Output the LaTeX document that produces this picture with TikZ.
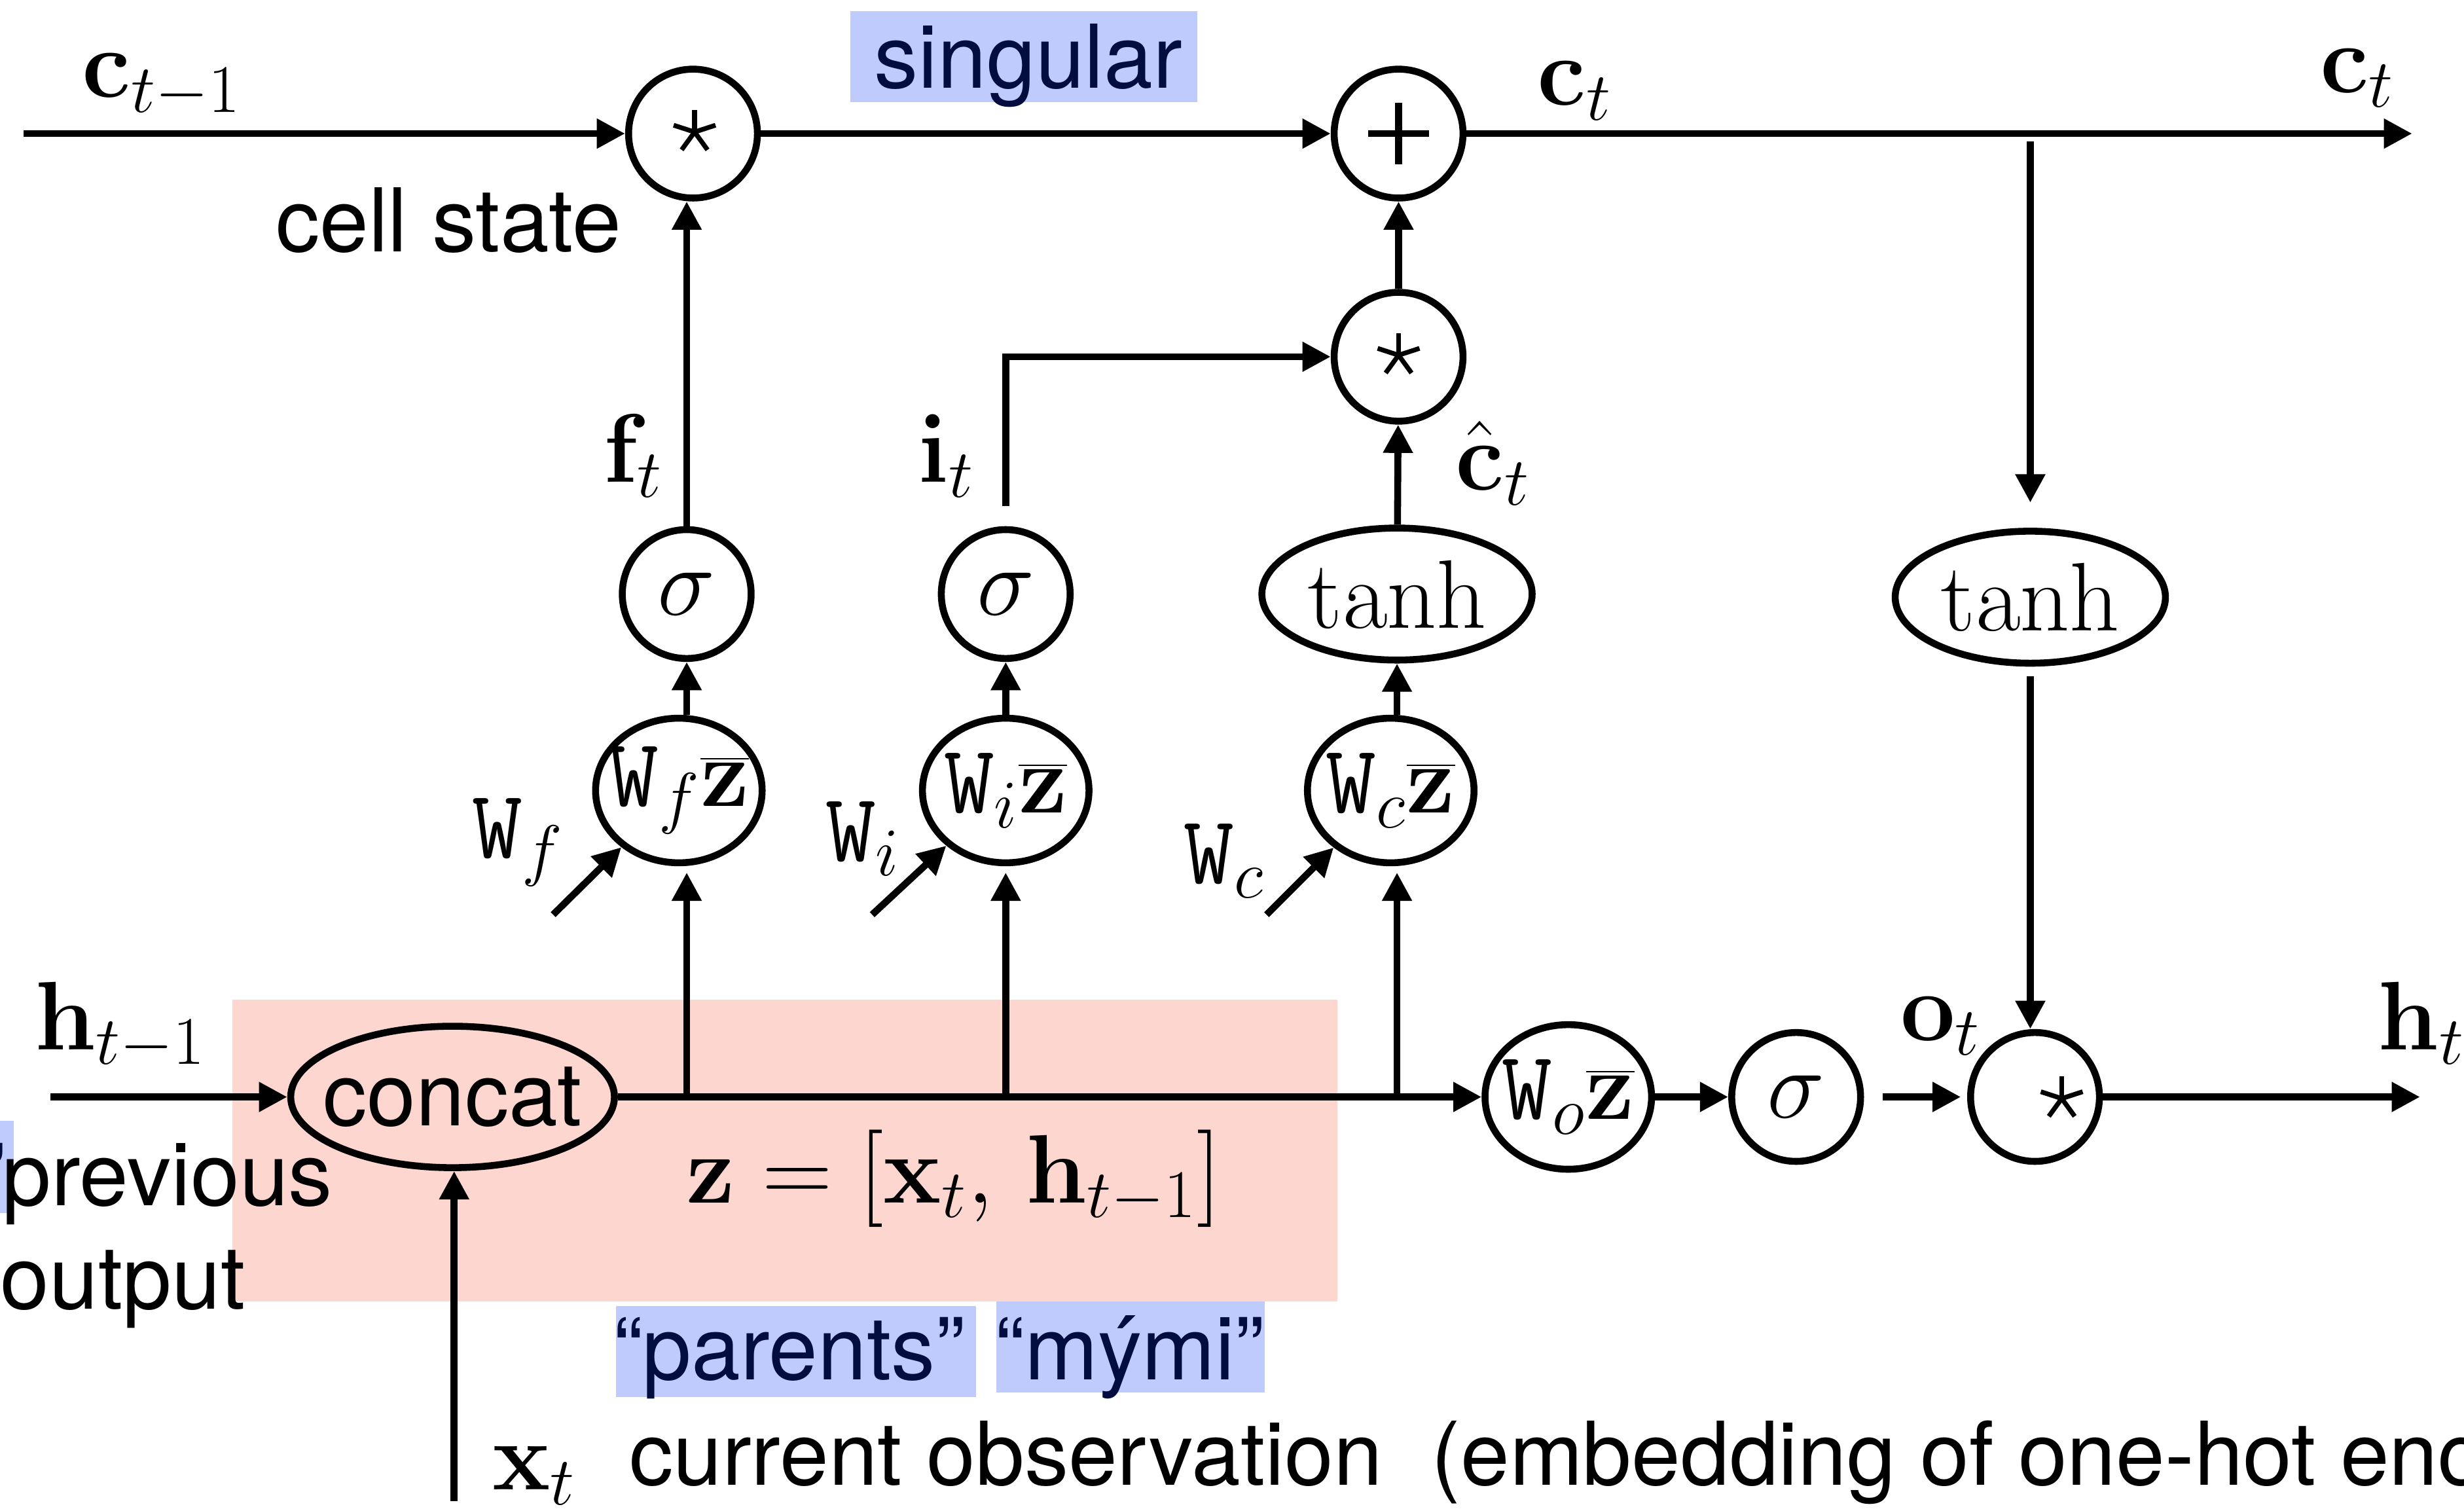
\RequirePackage{fix-cm}
\documentclass[tikz,border=0pt]{standalone}
\usepackage[no-math]{fontspec}
\newfontfamily\hv{TeX Gyre Heros}
\usetikzlibrary{arrows.meta,shapes.geometric,calc}
\definecolor{pinkbg}{HTML}{FDD6CF}
\definecolor{hlblue}{HTML}{C0CBFD}
\definecolor{navy}{HTML}{020C3E}
% text and formula sizes
\newcommand\fs{\fontsize{28}{33}\selectfont}
\newcommand\fm{\fontsize{31}{36}\selectfont}
% thin five-armed multiplication mark drawn around a point
\newcommand\astmark[1]{%
  \foreach \ang in {90,18,162,-54,234}
    \draw[line width=1.5pt] (#1) -- ++(\ang:7pt);}
\tikzset{
  ln/.style={line width=2.2pt},
  arr/.style={ln, -{Triangle[length=9pt,width=9pt]}},
  opc/.style={circle, draw, line width=2.2pt, minimum size=41pt, inner sep=0pt},
  oval/.style={ellipse, draw, line width=2.2pt, inner sep=0pt},
  wz/.style={oval, minimum width=53pt, minimum height=46pt},
  th/.style={oval, minimum width=86pt, minimum height=42pt},
  cc/.style={oval, minimum width=103pt, minimum height=45pt},
  txt/.style={font=\fs\hv, inner sep=0pt},
  mth/.style={font=\fm, inner sep=0pt},
}
\begin{document}
\begin{tikzpicture}[x=0.5pt,y=-0.5pt,font=\fm]
\useasboundingbox (0,0) rectangle (1568,960);

% shaded panel behind the concatenation
\fill[pinkbg] (148,636) rectangle (851,828);
% highlighted words
\fill[hlblue] (541,7) rectangle (762,65);
\fill[hlblue] (392,831) rectangle (621,889);
\fill[hlblue] (634,828) rectangle (805,886);
\fill[hlblue] (-40,713) rectangle (8.6,772);

% operation nodes
\node[opc] (m1) at (441,85) {};
\astmark{$(m1.center)+(1,-1)$}
\node[opc] (add) at (890,85) {};
\draw[line width=2.2pt] ([xshift=-9.75pt]add.center) -- ([xshift=9.75pt]add.center);
\draw[line width=2.2pt] ([yshift=-9.75pt]add.center) -- ([yshift=9.75pt]add.center);
\node[opc] (m2) at (890,227) {};
\astmark{$(m2.center)+(0,-1)$}
\node[opc] (sf) at (437,378) {$\sigma$};
\node[opc] (si) at (640,378) {$\sigma$};
\node[th] (tc) at (889,378) {$\tanh$};
\node[th] (th) at (1292,380) {$\tanh$};
\node[wz, label={center:$\mathtt{W}_{f}\overline{\mathbf{z}}$}] (wf) at (432,503) {};
\node[wz, label={center:$\mathtt{W}_{i}\overline{\mathbf{z}}$}] (wi) at (640,503) {};
\node[wz, label={center:$\mathtt{W}_{c}\overline{\mathbf{z}}$}] (wc) at (885,503) {};
\node[cc, label={[font=\fs\hv]center:concat}] (cat) at (288,698) {};
\node[wz, label={center:$\mathtt{W}_{o}\overline{\mathbf{z}}$}] (wo) at (998,698) {};
\node[opc] (so) at (1143,698) {$\sigma$};
\node[opc] (m3) at (1295,698) {};
\astmark{$(m3.center)+(17,1)$}

% free ends of the connectors
\coordinate (cin) at (15,85);
\coordinate (cout) at (1535,85);
\coordinate (br) at (1292,90);
\coordinate (it) at (640,322);
\coordinate (wfin) at (352,582);
\coordinate (wiin) at (555,582);
\coordinate (wcin) at (806,582);
\coordinate (jf) at (437,698);
\coordinate (ji) at (640,698);
\coordinate (jc) at (889,698);
\coordinate (hin) at (32,698);
\coordinate (xin) at (289,955);
\coordinate (hout) at (1540,698);

% cell state path
\draw[arr] (cin) -- (m1);
\draw[arr] (m1) -- (add);
\draw[arr] (add) -- (cout);
\draw[arr, shorten >=8pt] (br) -- (th);
\draw[arr, shorten <=3pt] (th.south) -- (th.south|-m3.north);
\draw[arr] (m2) -- (add);
\draw[arr] (it) |- (m2);
\draw[arr] (sf) -- (sf|-m1.south);
\draw[arr] (tc) -- (m2);

% gate pre-activations
\draw[arr] (sf|-wf.north) -- (sf);
\draw[arr] (si|-wi.north) -- (si);
\draw[arr] (tc|-wc.north) -- (tc);
\draw[arr] (wfin) -- (wf);
\draw[arr] (wiin) -- (wi);
\draw[arr] (wcin) -- (wc);
\draw[arr, shorten >=2pt] (jf) -- (jf|-wf.south);
\draw[arr, shorten >=2pt] (ji) -- (ji|-wi.south);
\draw[arr, shorten >=2pt] (jc) -- (jc|-wc.south);

% input and output path
\draw[arr] (hin) -- (cat);
\draw[arr] (xin) -- (xin|-cat.south);
\draw[arr] (cat) -- (wo);
\draw[arr] (wo) -- (so);
\draw[arr, shorten <=6pt, shorten >=2pt] (so) -- (m3);
\draw[arr] (m3) -- (hout);

% symbols
\node[mth, anchor=base west] (lc1) at (52,62) {$\mathbf{c}_{t-1}$};
\node[mth, anchor=base west] (lc2) at (978,67) {$\mathbf{c}_t$};
\node[mth, anchor=base west] (lc3) at (1476,59) {$\mathbf{c}_t$};
\node[mth, anchor=base west] (lf) at (384,307) {$\mathbf{f}_t$};
\node[mth, anchor=base west] (li) at (584,307) {$\mathbf{i}_t$};
\node[mth, anchor=base west] (lch) at (926,312) {$\hat{\mathbf{c}}_t$};
\node[mth, anchor=base west] (lwf) at (300,546) {$\mathtt{W}_{f}$};
\node[mth, anchor=base west] (lwi) at (525,548) {$\mathtt{W}_{i}$};
\node[mth, anchor=base west] (lwc) at (753,562) {$\mathtt{W}_{c}$};
\node[mth, anchor=base west] (lh1) at (22,668) {$\mathbf{h}_{t-1}$};
\node[mth, anchor=base west] (lo) at (1209,662) {$\mathbf{o}_t$};
\node[mth, anchor=base west] (lh2) at (1513,668) {$\mathbf{h}_t$};
\node[mth, anchor=base west] (lx) at (313,948) {$\mathbf{x}_t$};
\node[mth] (lz) at (607,750) {$\mathbf{z} = \bigl[\mathbf{x}_t,\, \mathbf{h}_{t-1}\bigr]$};

% words
\node[txt, anchor=base west, text=navy] (sing) at (556,56) {singular};
\node[txt, anchor=base west] (cs) at (175,160) {cell state};
\node[txt, anchor=base east, text=navy] (q) at (4,767) {”};
\node[txt, anchor=base west] (prev) at (1,767) {previous};
\node[txt, anchor=base west] (outp) at (0,833) {output};
\node[txt, anchor=base west, text=navy] (par) at (390,878) {“parents”};
\node[txt, anchor=base west, text=navy] (mym) at (633,878) {“mými”};
\node[txt, anchor=base west] (obs) at (400,945) {current observation\ \ (embedding of one-hot encoding)};
\end{tikzpicture}
\end{document}
